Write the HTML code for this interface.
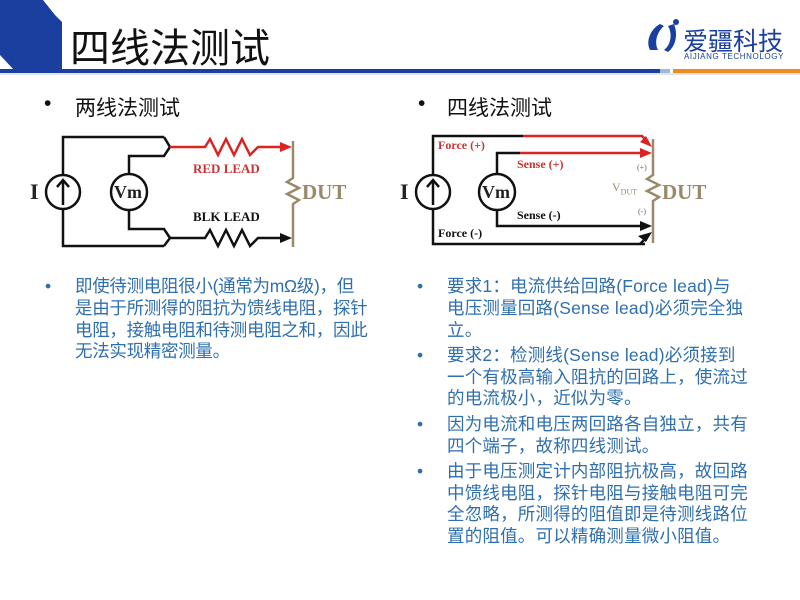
<!DOCTYPE html>
<html><head><meta charset="utf-8"><style>
html,body{margin:0;padding:0;background:#fff;}
body{width:800px;height:600px;position:relative;overflow:hidden;font-family:"Liberation Sans","Noto Sans CJK SC",sans-serif;}
.t{position:absolute;white-space:nowrap;}
.txt{position:absolute;color:#2f6fae;font-size:17.5px;line-height:21.8px;}
.txt p{margin:0 0 3.5px 0;position:relative;}
.txt p:before{content:"•";position:absolute;left:-30px;color:#2f6fae;}
</style></head><body>
<svg width="800" height="600" style="position:absolute;left:0;top:0">
<polygon points="0,0 43,0 55,15 62,22 62,70 14,70 0,55" fill="#1a3f9e"/>
<rect x="0" y="69" width="660" height="4" fill="#1a3f9e"/>
<rect x="660" y="69" width="10" height="4" fill="#9fb8d8"/>
<rect x="673" y="69" width="127" height="4" fill="#ee8a1e"/>
<rect x="0" y="73" width="800" height="2" fill="#dfe4ee"/>
<path d="M650,50 C645,40 652,28 660,24 L664,26 C657,32 654,42 658,50 Z" fill="#1a3f9e"/>
<path d="M664,50 C672,44 672,32 668,26 L674,24 C678,34 676,46 668,52 Z" fill="#1a3f9e"/>
<circle cx="676" cy="22" r="3" fill="#1a3f9e"/>

<g stroke="#111" stroke-width="2.5" fill="none">
<polyline points="164,137 63,137 63,246 164,246"/>
<polyline points="164,137 170,147 164,156 129,156 129,229 164,229 170,238 164,246"/>
<circle cx="63" cy="192" r="17" fill="#fff"/>
<line x1="63" y1="205" x2="63" y2="181"/>
<polyline points="57,187 63,180 69,187"/>
<circle cx="129" cy="192" r="18" fill="#fff"/>
<polyline points="170,238 205,238 210,230 218,246 226,230 234,246 242,230 250,246 258,238 282,238"/>
</g>
<polygon points="292,238 280,233 280,243" fill="#111"/>
<polyline points="170,147 205,147 210,139 218,155 226,139 234,155 242,139 250,155 258,147 282,147" stroke="#d22" stroke-width="2.5" fill="none"/>
<polygon points="292,147 280,142 280,152" fill="#d22"/>
<polyline points="293,141 293,178 287,182 299,188 287,194 299,200 293,204 293,247" stroke="#9b8a6a" stroke-width="2.5" fill="none"/>

<g stroke="#111" stroke-width="2.5" fill="none">
<polyline points="523,136 433,136 433,244 645,244"/>
<polyline points="520,153 497,153 497,226 642,226"/>
<circle cx="433" cy="192" r="17" fill="#fff"/>
<line x1="433" y1="205" x2="433" y2="181"/>
<polyline points="427,187 433,180 439,187"/>
<circle cx="497" cy="192" r="18" fill="#fff"/>
<line x1="640" y1="244" x2="646" y2="238"/>
</g>
<polygon points="652,226 640,221 640,231" fill="#111"/>
<polygon points="652,232 638,236 646,242" fill="#111"/>
<polyline points="523,136 642,136 646,140" stroke="#d22" stroke-width="2.5" fill="none"/>
<polyline points="520,153 642,153" stroke="#d22" stroke-width="2.5" fill="none"/>
<polygon points="652,153 640,148 640,158" fill="#d22"/>
<polygon points="652,147 646,136 640,142" fill="#d22"/>
<polyline points="653,139 653,175 647,179 659,185 647,191 659,197 653,201 653,243" stroke="#9b8a6a" stroke-width="2.5" fill="none"/>
</svg>

<div class="t" style="left:70px;top:16px;font-size:40px;color:#111;">四线法测试</div>
<div class="t" style="left:683px;top:22px;font-size:25px;color:#1a3f9e;">爱疆科技</div>
<div class="t" style="left:684px;top:52px;font-size:8px;color:#1a3f9e;letter-spacing:0.6px;">AIJIANG TECHNOLOGY</div>

<div class="t" style="left:44px;top:92px;font-size:21px;color:#111;">•</div>
<div class="t" style="left:75px;top:92px;font-size:21px;color:#111;">两线法测试</div>
<div class="t" style="left:418px;top:92px;font-size:21px;color:#111;">•</div>
<div class="t" style="left:447px;top:92px;font-size:21px;color:#111;">四线法测试</div>

<div style="font-family:'Liberation Serif',serif;font-weight:bold;">
<div class="t" style="left:30px;top:179px;font-size:22px;color:#222;">I</div>
<div class="t" style="left:114px;top:182px;font-size:18px;color:#222;">Vm</div>
<div class="t" style="left:193px;top:161px;font-size:13px;color:#c33;">RED LEAD</div>
<div class="t" style="left:193px;top:209px;font-size:13px;color:#111;">BLK LEAD</div>
<div class="t" style="left:302px;top:180px;font-size:21px;color:#9b8a6a;">DUT</div>

<div class="t" style="left:400px;top:179px;font-size:22px;color:#222;">I</div>
<div class="t" style="left:482px;top:182px;font-size:18px;color:#222;">Vm</div>
<div class="t" style="left:438px;top:138px;font-size:12px;color:#c33;">Force (+)</div>
<div class="t" style="left:517px;top:157px;font-size:12px;color:#c33;">Sense (+)</div>
<div class="t" style="left:517px;top:208px;font-size:12px;color:#111;">Sense (-)</div>
<div class="t" style="left:438px;top:226px;font-size:12px;color:#111;">Force (-)</div>
<div class="t" style="left:662px;top:180px;font-size:21px;color:#9b8a6a;">DUT</div>
<div class="t" style="left:612px;top:180px;font-size:12px;color:#9b8a6a;font-weight:normal;">V<sub style="font-size:8px">DUT</sub></div>
<div class="t" style="left:637px;top:163px;font-size:8px;color:#666;font-weight:normal;">(+)</div>
<div class="t" style="left:638px;top:207px;font-size:8px;color:#666;font-weight:normal;">(-)</div>
</div>

<div class="txt" style="left:75px;top:276px;width:320px;letter-spacing:-0.3px;">
<p>即使待测电阻很小(通常为mΩ级)，但<br>是由于所测得的阻抗为馈线电阻，探针<br>电阻，接触电阻和待测电阻之和，因此<br>无法实现精密测量。</p>
</div>
<div class="txt" style="left:447px;top:276px;width:345px;letter-spacing:0.2px;">
<p>要求1：电流供给回路(Force lead)与<br>电压测量回路(Sense lead)必须完全独<br>立。</p>
<p>要求2：检测线(Sense lead)必须接到<br>一个有极高输入阻抗的回路上，使流过<br>的电流极小，近似为零。</p>
<p>因为电流和电压两回路各自独立，共有<br>四个端子，故称四线测试。</p>
<p>由于电压测定计内部阻抗极高，故回路<br>中馈线电阻，探针电阻与接触电阻可完<br>全忽略，所测得的阻值即是待测线路位<br>置的阻值。可以精确测量微小阻值。</p>
</div>
</body></html>
